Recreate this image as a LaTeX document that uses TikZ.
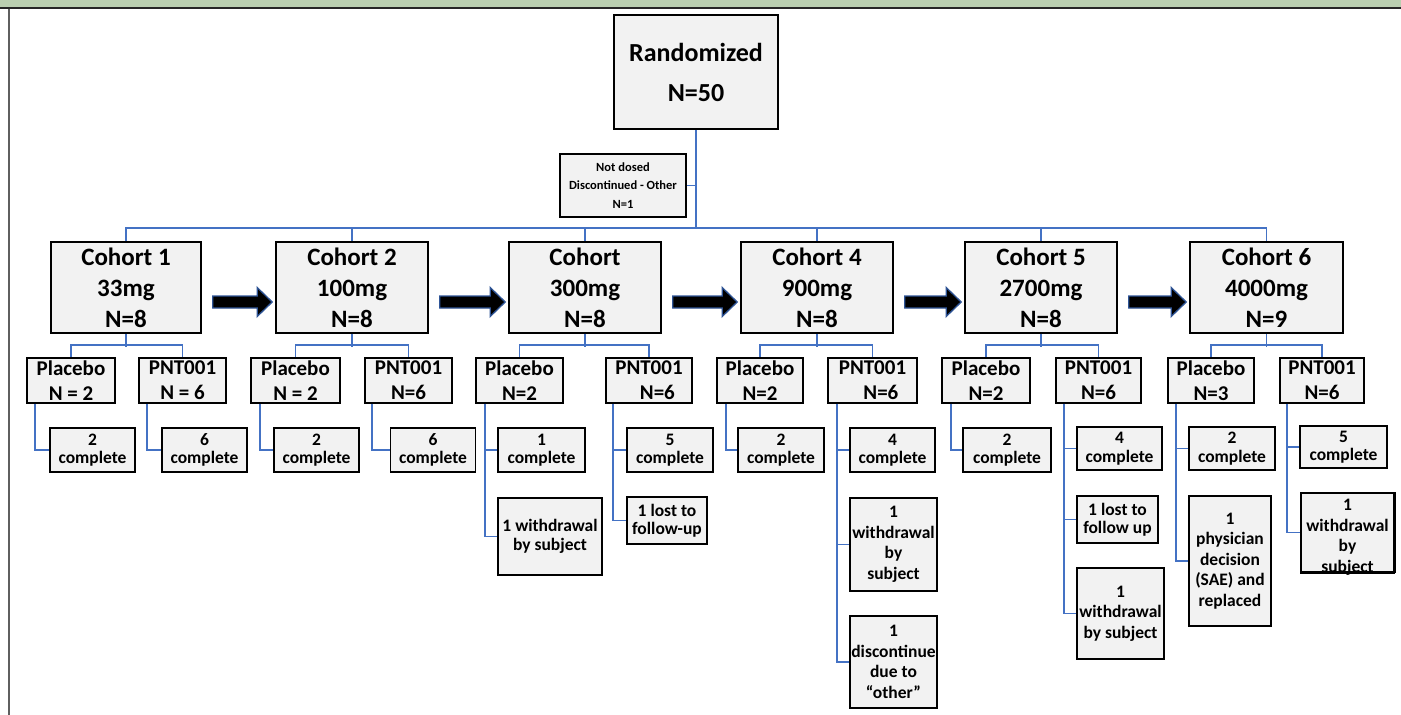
\documentclass[tikz,border=0pt]{standalone}
\usepackage{fontspec}
\setmainfont{Carlito}
\usetikzlibrary{calc}
\definecolor{boxfill}{HTML}{F2F2F2}
\definecolor{connblue}{HTML}{4472C4}
\definecolor{bandgreen}{HTML}{BACFB0}
\definecolor{arrowedge}{HTML}{2F5597}
\definecolor{framegray}{HTML}{5F5F5F}
\newcommand{\doseArrow}[2]{\draw[dosearrow] ($(#1.east)+(11,8.5)$) -- ($(#2.west)+(-18,8.5)$) -- ($(#2.west)+(-18,0)$) -- ($(#2.west)+(-3,14.5)$) -- ($(#2.west)+(-18,29)$) -- ($(#2.west)+(-18,20.5)$) -- ($(#1.east)+(11,20.5)$) -- cycle;}
\begin{document}
\begin{tikzpicture}[x=1pt,y=-1pt,
  box/.style={draw=black, line width=1.6pt, fill=boxfill, inner sep=0pt, align=center},
  rbox/.style={box, font=\fontsize{26}{40}\selectfont\bfseries},
  cbox/.style={box, minimum height=91, font=\fontsize{25}{31}\selectfont\bfseries},
  sbox/.style={box, minimum height=45, font=\fontsize{21}{25}\selectfont\bfseries},
  obox/.style={box, font=\fontsize{17.5}{20.5}\selectfont\bfseries},
  cobox/.style={box, minimum height=44, font=\fontsize{17.5}{18.5}\selectfont\bfseries},
  otxt/.style={inner sep=0pt, align=center, font=\fontsize{17.5}{20.5}\selectfont\bfseries},
  nbox/.style={box, font=\fontsize{12.5}{18.5}\selectfont\bfseries},
  conn/.style={draw=connblue, line width=1.8pt},
  dosearrow/.style={fill=black, draw=arrowedge, line width=1.3pt, line join=miter}]
\useasboundingbox (0,0) rectangle (1401,715);
% frame
\fill[bandgreen] (0,0) rectangle (1401,7);
\draw[line width=1.5pt, black!85] (0,7.8) -- (1401,7.8);
\draw[line width=2pt, framegray] (9,8.5) -- (9,715);

% top
\node[rbox, minimum width=164, minimum height=114] (r) at (696,72) {Randomized\\N=50};
\node[nbox, minimum width=126, minimum height=63] (nd) at (623,185.5) {Not dosed\\Discontinued - Other\\N=1};

% cohorts
\node[cbox, minimum width=150] (c1) at (126,287.5) {Cohort 1\\33mg\\N=8};
\node[cbox, minimum width=152] (c2) at (352,287.5) {Cohort 2\\100mg\\N=8};
\node[cbox, minimum width=152] (c3) at (585,287.5) {Cohort\\300mg\\N=8};
\node[cbox, minimum width=152] (c4) at (817,287.5) {Cohort 4\\900mg\\N=8};
\node[cbox, minimum width=152] (c5) at (1041,287.5) {Cohort 5\\2700mg\\N=8};
\node[cbox, minimum width=153] (c6) at (1266.5,287.5) {Cohort 6\\4000mg\\N=9};

% arms
\node[sbox, minimum width=88] (p1) at (71,380.5) {Placebo\\N = 2};
\node[sbox, minimum width=87] (q1) at (182.5,380.5) {PNT001\\N = 6};
\node[sbox, minimum width=89] (p2) at (295.5,380.5) {Placebo\\N = 2};
\node[sbox, minimum width=87] (q2) at (408.5,380.5) {PNT001\\N=6};
\node[sbox, minimum width=87] (p3) at (519.5,380.5) {Placebo\\N=2};
\node[sbox, minimum width=86] (q3) at (649,380.5) {PNT001\\\hspace*{0.8em}N=6};
\node[sbox, minimum width=86] (p4) at (760,380.5) {Placebo\\N=2};
\node[sbox, minimum width=89] (q4) at (872.5,380.5) {PNT001\\\hspace*{0.8em}N=6};
\node[sbox, minimum width=88] (p5) at (986,380.5) {Placebo\\N=2};
\node[sbox, minimum width=85] (q5) at (1098.5,380.5) {PNT001\\N=6};
\node[sbox, minimum width=86] (p6) at (1211,380.5) {Placebo\\N=3};
\node[sbox, minimum width=84] (q6) at (1322,380.5) {PNT001\\N=6};

% outcomes
\node[cobox, minimum width=85] (o1a) at (92.5,450) {2\\complete};
\node[cobox, minimum width=85] (o1b) at (204.5,450) {6\\complete};
\node[cobox, minimum width=85] (o2a) at (316.5,450) {2\\complete};
\node[cobox, minimum width=85] (o2b) at (433,450) {6\\complete};
\node[cobox, minimum width=87] (o3a) at (541.5,450) {1\\complete};
\node[cobox, minimum width=86] (o3b) at (670,450) {5\\complete};
\node[cobox, minimum width=86] (o4a) at (781,450) {2\\complete};
\node[cobox, minimum width=85] (o4b) at (892.5,450) {4\\complete};
\node[cobox, minimum width=88] (o5a) at (1007,450) {2\\complete};
\node[cobox, minimum width=85, minimum height=43] (o5b) at (1119.5,448.5) {4\\complete};
\node[cobox, minimum width=86, minimum height=43] (o6a) at (1232,448.5) {2\\complete};
\node[cobox, minimum width=87, minimum height=42] (o6b) at (1343.5,447) {5\\complete};

\node[cobox, minimum width=104, minimum height=77, font=\fontsize{17.5}{19}\selectfont\bfseries] (o3c) at (550,536.5) {1 withdrawal\\by subject};
\node[cobox, minimum width=80, minimum height=47] (o3d) at (667,520.5) {1 lost to\\follow-up};
\node[obox, minimum width=87, minimum height=93] (o4c) at (893.5,544.5) {1\\withdrawal\\by\\subject};
\node[obox, minimum width=87, minimum height=92] (o4d) at (893.5,662) {1\\discontinue\\due to\\“other”};
\node[cobox, minimum width=81, minimum height=47] (o5c) at (1117.5,519.5) {1 lost to\\follow up};
\node[obox, minimum width=87, minimum height=91] (o5d) at (1120.5,613.5) {1\\withdrawal\\by subject};
\node[obox, minimum width=82, minimum height=130] (o6c) at (1230,561) {1\\physician\\decision\\(SAE) and\\replaced};
\node[obox, minimum width=93, minimum height=79,
      label={[otxt, yshift=-5pt]center:{1\\withdrawal\\by\\subject}}] (o6d) at (1347.5,532.5) {};
\draw[line width=3.5pt] ([xshift=-0.5pt]o6d.north east) -- ([xshift=-0.5pt]o6d.south east);
\draw[line width=1.6pt] (o6d.south west) -- (o6d.south east);

% arrows between cohorts
\doseArrow{c1}{c2}
\doseArrow{c2}{c3}
\doseArrow{c3}{c4}
\doseArrow{c4}{c5}
\doseArrow{c5}{c6}

% connectors
\draw[conn] (r.south) -- ($(r.south |- c1.north)+(0,-13)$);
\draw[conn] (nd.east) -- (nd.east -| r.south);
\draw[conn] (c1.north) -- ++(0,-13) -| (c6.north);
\foreach \c in {c2,c3,c4,c5} \draw[conn] (\c.north) -- ++(0,-13);
\foreach \i in {1,...,6} {
  \draw[conn] (p\i.north) -- ++(0,-12) -| (q\i.north);
  \draw[conn] (c\i.south) -- ++(0,13);
}
\draw[conn] ([xshift=9pt]p1.south west) |- (o1a.west);
\draw[conn] ([xshift=9pt]q1.south west) |- (o1b.west);
\draw[conn] ([xshift=10pt]p2.south west) |- (o2a.west);
\draw[conn] ([xshift=8pt]q2.south west) |- (o2b.west);
\draw[conn] ([xshift=10pt]p3.south west) |- (o3a.west);
\draw[conn] ([xshift=10pt]p3.south west) |- (o3c.west);
\draw[conn] ([xshift=8pt]q3.south west) |- (o3b.west);
\draw[conn] ([xshift=8pt]q3.south west) |- (o3d.west);
\draw[conn] ([xshift=10pt]p4.south west) |- (o4a.west);
\draw[conn] ([xshift=10pt]q4.south west) |- (o4b.west);
\draw[conn] ([xshift=10pt]q4.south west) |- (o4c.west);
\draw[conn] ([xshift=10pt]q4.south west) |- (o4d.west);
\draw[conn] ([xshift=10pt]p5.south west) |- (o5a.west);
\draw[conn] ([xshift=9pt]q5.south west) |- (o5b.west);
\draw[conn] ([xshift=9pt]q5.south west) |- (o5c.west);
\draw[conn] ([xshift=9pt]q5.south west) |- (o5d.west);
\draw[conn] ([xshift=9pt]p6.south west) |- (o6a.west);
\draw[conn] ([xshift=9pt]p6.south west) |- (o6c.west);
\draw[conn] ([xshift=8pt]q6.south west) |- (o6b.west);
\draw[conn] ([xshift=8pt]q6.south west) |- (o6d.west);
\end{tikzpicture}
\end{document}
